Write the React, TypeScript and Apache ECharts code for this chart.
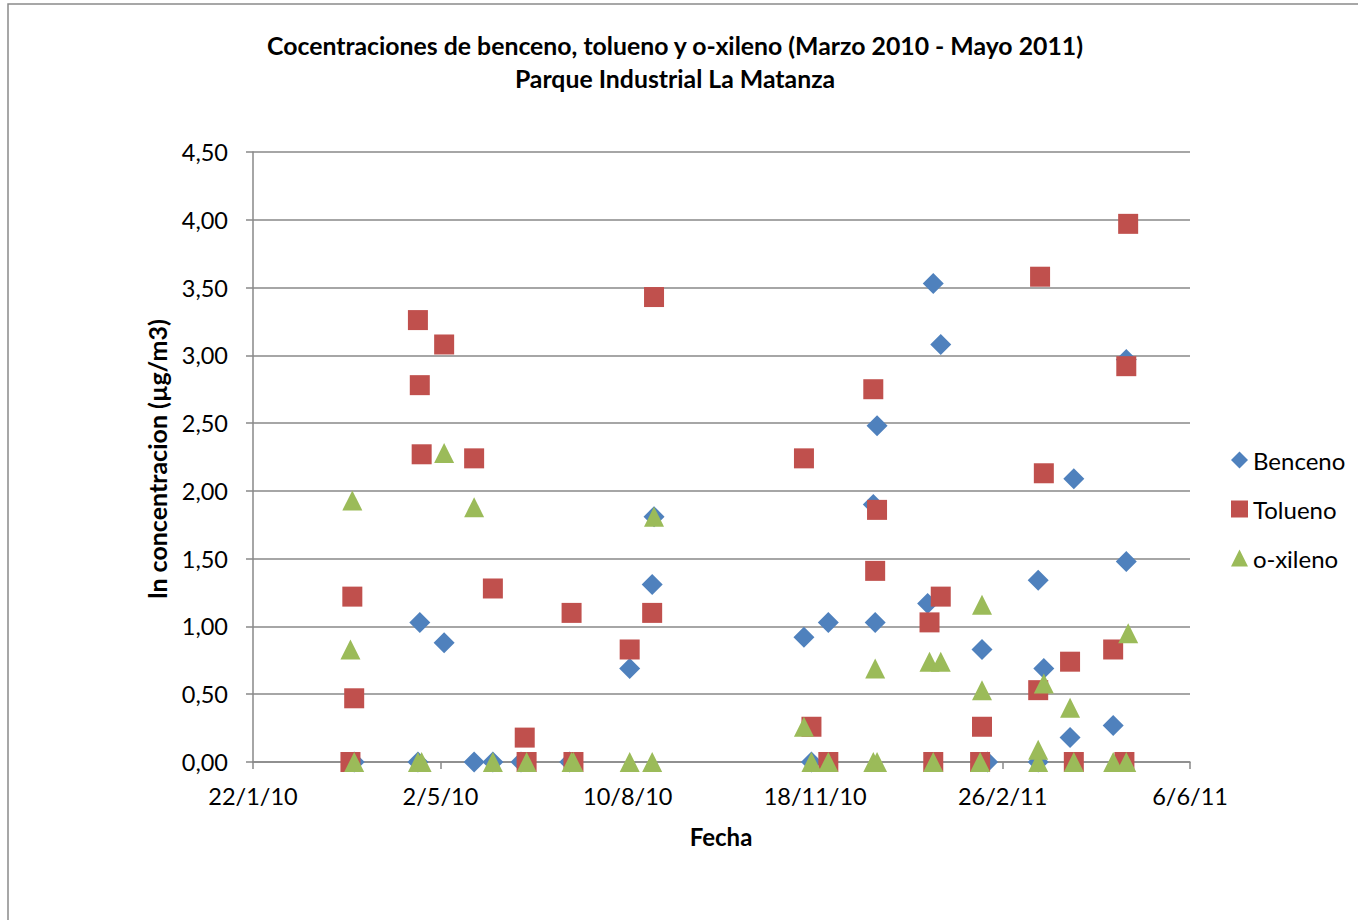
import React, { useEffect, useRef } from "react";
import * as echarts from "echarts";

const TITLE_LINE_1 = "Cocentraciones de benceno, tolueno y o-xileno (Marzo 2010 - Mayo 2011)";
const TITLE_LINE_2 = "Parque Industrial La Matanza";
const X_NAME = "Fecha";
const Y_NAME = "ln concentracion (µg/m3)";
const SERIES_NAMES = ["Benceno", "Tolueno", "o-xileno"];

const BENCENO_DATES = [
  "2010-03-17", "2010-04-20", "2010-04-21", "2010-05-04", "2010-05-20", "2010-05-30",
  "2010-06-14", "2010-07-10", "2010-08-11", "2010-08-23", "2010-08-24", "2010-11-12",
  "2010-11-16", "2010-11-25", "2010-12-19", "2010-12-20", "2010-12-21", "2011-01-17",
  "2011-01-20", "2011-01-24", "2011-02-15", "2011-02-18", "2011-03-17", "2011-03-17",
  "2011-03-20", "2011-04-03", "2011-04-05", "2011-04-26", "2011-05-03", "2011-05-03",
];
const BENCENO_VALUES = [
  0, 0, 1.03, 0.88, 0, 0,
  0, 0, 0.69, 1.31, 1.81, 0.92,
  0, 1.03, 1.9, 1.03, 2.48, 1.17,
  3.53, 3.08, 0.83, 0, 0, 1.34,
  0.69, 0.18, 2.09, 0.27, 1.48, 2.97,
];

const TOLUENO_DATES = [
  "2010-03-15", "2010-03-16", "2010-03-17", "2010-04-20", "2010-04-21", "2010-04-22",
  "2010-05-04", "2010-05-20", "2010-05-30", "2010-06-16", "2010-06-17", "2010-07-11",
  "2010-07-12", "2010-08-11", "2010-08-23", "2010-08-24", "2010-11-12", "2010-11-16",
  "2010-11-25", "2010-12-19", "2010-12-20", "2010-12-21", "2011-01-18", "2011-01-20",
  "2011-01-24", "2011-02-14", "2011-02-15", "2011-03-17", "2011-03-18", "2011-03-20",
  "2011-04-03", "2011-04-05", "2011-04-26", "2011-05-02", "2011-05-03", "2011-05-04",
];
const TOLUENO_VALUES = [
  0, 1.22, 0.47, 3.26, 2.78, 2.27,
  3.08, 2.24, 1.28, 0.18, 0, 1.1,
  0, 0.83, 1.1, 3.43, 2.24, 0.26,
  0, 2.75, 1.41, 1.86, 1.03, 0,
  1.22, 0, 0.26, 0.53, 3.58, 2.13,
  0.74, 0, 0.83, 0, 2.92, 3.97,
];

const OXILENO_DATES = [
  "2010-03-15", "2010-03-16", "2010-03-17", "2010-04-20", "2010-04-22", "2010-05-04",
  "2010-05-20", "2010-05-30", "2010-06-17", "2010-07-11", "2010-07-12", "2010-08-11",
  "2010-08-23", "2010-08-24", "2010-11-12", "2010-11-16", "2010-11-25", "2010-12-19",
  "2010-12-20", "2010-12-21", "2011-01-18", "2011-01-20", "2011-01-24", "2011-02-14",
  "2011-02-15", "2011-02-15", "2011-03-17", "2011-03-17", "2011-03-20", "2011-04-03",
  "2011-04-05", "2011-04-26", "2011-05-03", "2011-05-04",
];
const OXILENO_VALUES = [
  0.83, 1.93, 0, 0, 0, 2.28,
  1.88, 0, 0, 0, 0, 0,
  0, 1.81, 0.26, 0, 0, 0,
  0.69, 0, 0.74, 0, 0.74, 0,
  0.53, 1.16, 0, 0.09, 0.58, 0.4,
  0, 0, 0, 0.95,
];

// Excel-style serial day numbers (22/1/10 = 40200)
const X_MIN = 40200;
const X_MAX = 40700;
const X_STEP = 100;
const Y_MIN = 0;
const Y_MAX = 4.5;
const Y_STEP = 0.5;

const toSerial = (iso: string) => {
  const [y, m, d] = iso.split("-").map(Number);
  return Math.round(Date.UTC(y, m - 1, d) / 86400000) + 25569;
};
const serialLabel = (v: number) => {
  const dt = new Date((v - 25569) * 86400000);
  return `${dt.getUTCDate()}/${dt.getUTCMonth() + 1}/${String(dt.getUTCFullYear()).slice(2)}`;
};
const pairs = (dates: string[], vals: number[]) => dates.map((d, i) => [toSerial(d), vals[i]]);

const COLORS = ["#4F81BD", "#C0504D", "#9BBB59"];
const SYMBOLS = ["diamond", "rect", "triangle"];
const AXIS_GRAY = "#898989";

export default function App() {
  const ref = useRef<HTMLDivElement>(null);
  useEffect(() => {
    if (!ref.current) return;
    const chart = echarts.init(ref.current, undefined, { renderer: "svg" });
    const seriesData = [
      pairs(BENCENO_DATES, BENCENO_VALUES),
      pairs(TOLUENO_DATES, TOLUENO_VALUES),
      pairs(OXILENO_DATES, OXILENO_VALUES),
    ];
    chart.setOption({
      animation: false,
      backgroundColor: "#ffffff",
      grid: { left: 253, top: 152, right: 168, bottom: 158, containLabel: false },
      graphic: [
        {
          type: "rect",
          shape: { x: 8, y: 4, width: 1400, height: 1000 },
          style: { fill: "none", stroke: "#8a8a8a", lineWidth: 1.5 },
          silent: true,
        },
        {
          type: "text",
          x: 675,
          y: 45,
          style: {
            text: TITLE_LINE_1,
            font: "bold 24.8px Lato",
            fill: "#000",
            align: "center",
            verticalAlign: "middle",
          },
        },
        {
          type: "text",
          x: 675,
          y: 78,
          style: {
            text: TITLE_LINE_2,
            font: "bold 24.8px Lato",
            fill: "#000",
            align: "center",
            verticalAlign: "middle",
          },
        },
        {
          type: "text",
          x: 157,
          y: 459,
          rotation: Math.PI / 2,
          style: {
            text: Y_NAME,
            font: "bold 25px Lato",
            fill: "#000",
            align: "center",
            verticalAlign: "middle",
          },
        },
        {
          type: "text",
          x: 721,
          y: 836,
          style: {
            text: X_NAME,
            font: "bold 24px Lato",
            fill: "#000",
            align: "center",
            verticalAlign: "middle",
          },
        },
      ],
      legend: {
        orient: "vertical",
        left: 1226,
        top: 443,
        itemWidth: 17,
        itemHeight: 17,
        itemGap: 25,
        textStyle: { fontFamily: "Lato", fontSize: 24, color: "#000", lineHeight: 24 },
        data: SERIES_NAMES.map((n, i) => ({ name: n, icon: SYMBOLS[i] })),
      },
      xAxis: {
        type: "value",
        min: X_MIN,
        max: X_MAX,
        interval: X_STEP,
        splitLine: { show: false },
        axisLine: { show: true, onZero: false, lineStyle: { color: AXIS_GRAY, width: 1.5 } },
        axisTick: { show: true, length: 7, inside: false, lineStyle: { color: AXIS_GRAY, width: 1.5 } },
        axisLabel: {
          margin: 22,
          fontFamily: "Lato",
          fontSize: 23.5,
          color: "#000",
          formatter: (v: number) => serialLabel(v),
        },
      },
      yAxis: {
        type: "value",
        min: Y_MIN,
        max: Y_MAX,
        interval: Y_STEP,
        splitLine: { show: true, lineStyle: { color: AXIS_GRAY, width: 1.5 } },
        axisLine: { show: true, lineStyle: { color: AXIS_GRAY, width: 1.5 } },
        axisTick: { show: true, length: 7, inside: false, lineStyle: { color: AXIS_GRAY, width: 1.5 } },
        axisLabel: {
          margin: 25,
          fontFamily: "Lato",
          fontSize: 23.5,
          color: "#000",
          formatter: (v: number) => v.toFixed(2).replace(".", ","),
        },
      },
      series: SERIES_NAMES.map((name, i) => ({
        name,
        type: "scatter",
        symbol: SYMBOLS[i],
        symbolSize: i === 0 ? 21 : 20,
        itemStyle: { color: COLORS[i], opacity: 1 },
        data: seriesData[i],
        z: 2 + i,
      })),
    });
    return () => chart.dispose();
  }, []);
  return (
    <div
      ref={ref}
      style={{ position: "absolute", left: 0, top: 0, width: 1358, height: 920 }}
    />
  );
}
